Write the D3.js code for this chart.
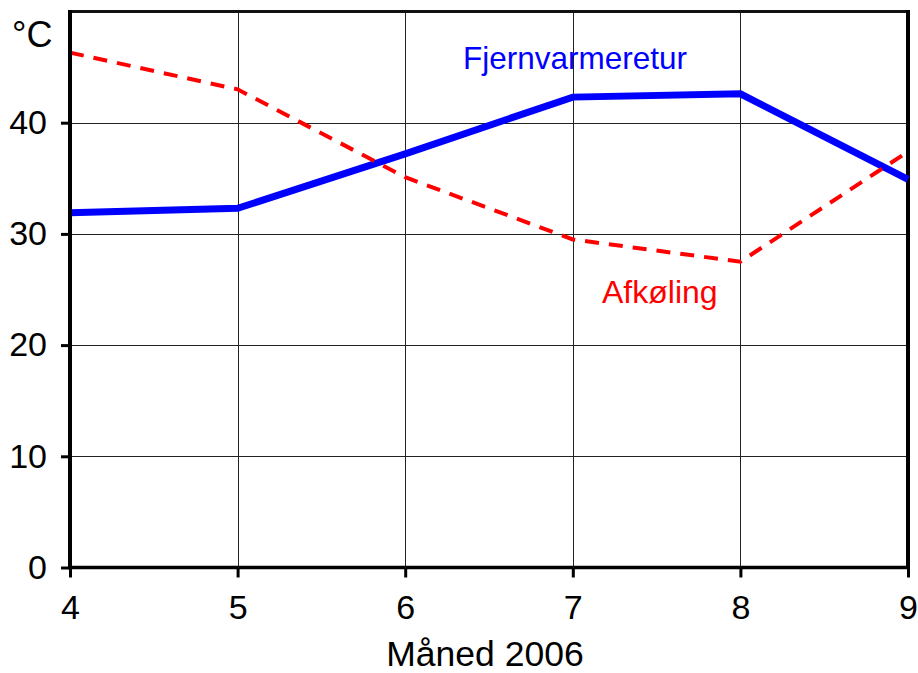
<!DOCTYPE html>
<html><head><meta charset="utf-8">
<script src="https://cdn.jsdelivr.net/npm/d3@7"></script>
<style>body{margin:0;background:#fff}svg{display:block}text{font-family:"Liberation Sans",Arial,sans-serif}</style>
</head><body>
<script>
const months = [4, 5, 6, 7, 8, 9];
const fjernvarmeretur = [31.9, 32.3, 37.2, 42.3, 42.6, 34.9];
const afkoling = [46.3, 43.0, 35.1, 29.5, 27.5, 37.4];
const yTicks = [0, 10, 20, 30, 40];
const xTicks = [4, 5, 6, 7, 8, 9];
const labels = {unit: "°C", xTitle: "Måned 2006", blue: "Fjernvarmeretur", red: "Afkøling"};

const W = 918, H = 673;
const m = {left: 70, right: 10, top: 11.5, bottom: 105.5};
const svg = d3.select("body").append("svg").attr("width", W).attr("height", H);
const x = d3.scaleLinear().domain([4, 9]).range([m.left, W - m.right]);
const y = d3.scaleLinear().domain([0, 50]).range([H - m.bottom, m.top]);

// grid
const g = svg.append("g");
g.selectAll(".hg").data(yTicks.filter(d => d > 0)).join("line")
  .attr("x1", x(4)).attr("x2", x(9)).attr("y1", d => Math.round(y(d)) + 0.5).attr("y2", d => Math.round(y(d)) + 0.5)
  .attr("stroke", "#222").attr("stroke-width", 1);
g.selectAll(".vg").data(xTicks.filter(d => d > 4 && d < 9)).join("line")
  .attr("y1", y(0)).attr("y2", y(50)).attr("x1", d => Math.round(x(d)) + 0.5).attr("x2", d => Math.round(x(d)) + 0.5)
  .attr("stroke", "#222").attr("stroke-width", 1);

// border top/right
svg.append("line").attr("x1", x(4)).attr("x2", x(9) + 2).attr("y1", y(50)).attr("y2", y(50)).attr("stroke", "#111").attr("stroke-width", 3);
svg.append("line").attr("x1", x(9)).attr("x2", x(9)).attr("y1", y(50) - 1.5).attr("y2", y(0)).attr("stroke", "#000").attr("stroke-width", 4);

// lines
const line = d3.line().x((d, i) => x(months[i])).y(d => y(d));
svg.append("path").datum(fjernvarmeretur).attr("d", line).attr("fill", "none")
  .attr("stroke", "#0000ff").attr("stroke-width", 7).attr("stroke-linejoin", "miter");
svg.append("path").datum(afkoling).attr("d", line).attr("fill", "none")
  .attr("stroke", "#ff0000").attr("stroke-width", 4).attr("stroke-dasharray", "14,10");

// axes
const ax = svg.append("g").attr("transform", `translate(0,${y(0)})`)
  .call(d3.axisBottom(x).tickValues(xTicks).tickSize(10).tickPadding(17).tickFormat(d3.format("d")));
const ay = svg.append("g").attr("transform", `translate(${x(4)},0)`)
  .call(d3.axisLeft(y).tickValues(yTicks).tickSize(9).tickPadding(14));
[ax, ay].forEach(a => {
  a.select(".domain").remove();
  a.selectAll(".tick line").attr("stroke", "#000").attr("stroke-width", 3);
  a.selectAll("text").attr("fill", "#000").style("font-size", "34px").style("font-family", "Liberation Sans, Arial, sans-serif");
});
svg.append("line").attr("x1", x(4)).attr("x2", x(4)).attr("y1", y(50) - 1.5).attr("y2", y(0) + 1.5).attr("stroke", "#000").attr("stroke-width", 4);
svg.append("line").attr("x1", x(4) - 2).attr("x2", x(9) + 2).attr("y1", y(0)).attr("y2", y(0)).attr("stroke", "#000").attr("stroke-width", 3.5);

// texts
svg.append("text").attr("x", 12).attr("y", 47).text(labels.unit).style("font-size", "36px");
svg.append("text").attr("x", (x(4) + x(9)) / 2 - 4).attr("y", 666).attr("text-anchor", "middle").text(labels.xTitle).style("font-size", "35.5px");
svg.append("text").attr("x", 463).attr("y", 69).text(labels.blue).attr("fill", "#0000ff").style("font-size", "31.5px");
svg.append("text").attr("x", 602).attr("y", 303).text(labels.red).attr("fill", "#ff0000").style("font-size", "32px");
</script>
</body></html>
